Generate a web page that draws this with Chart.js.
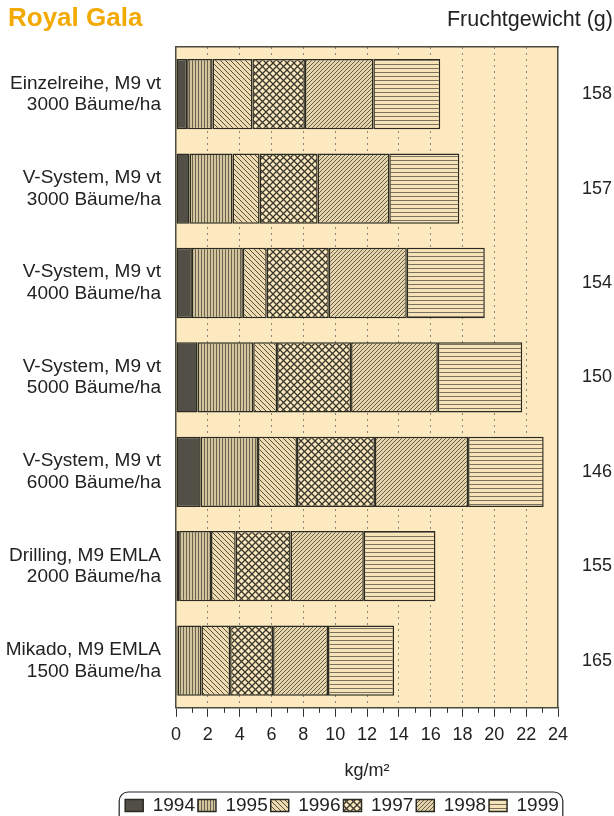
<!DOCTYPE html>
<html>
<head>
<meta charset="UTF-8" />
<title>Royal Gala</title>
<style>
  body { margin: 0; background: #fff; font-family: "Liberation Sans", Arial, sans-serif; }
  #wrap { position: relative; width: 614px; height: 816px; overflow: hidden; }
  #title { position: absolute; left: 8px; top: 2px; font-size: 26px; font-weight: bold; color: #f2a900; }
  #weightTitle { position: absolute; right: 1px; top: 7px; font-size: 21.5px; color: #222; }
</style>
</head>
<body>
<div id="wrap">
  <canvas id="chart"></canvas>
  <div id="title">Royal Gala</div>
  <div id="weightTitle">Fruchtgewicht (g)</div>
</div>

<script src="https://cdn.jsdelivr.net/npm/chart.js"></script>
<script>
const categories = [
  ["Einzelreihe, M9 vt", "3000 Bäume/ha"],
  ["V-System, M9 vt", "3000 Bäume/ha"],
  ["V-System, M9 vt", "4000 Bäume/ha"],
  ["V-System, M9 vt", "5000 Bäume/ha"],
  ["V-System, M9 vt", "6000 Bäume/ha"],
  ["Drilling, M9 EMLA", "2000 Bäume/ha"],
  ["Mikado, M9 EMLA", "1500 Bäume/ha"]
];
const fruitWeights = ["158", "157", "154", "150", "146", "155", "165"];

// yield per year, kg/m²
const y1994 = [0.7, 0.85, 1.0, 1.35, 1.55, 0.2, 0.1];
const y1995 = [1.6, 2.7, 3.2, 3.5, 3.6, 2.0, 1.5];
const y1996 = [2.5, 1.7, 1.5, 1.5, 2.45, 1.55, 1.8];
const y1997 = [3.3, 3.65, 3.9, 4.65, 4.9, 3.45, 2.7];
const y1998 = [4.3, 4.5, 4.9, 5.45, 5.85, 4.6, 3.45];
const y1999 = [4.2, 4.4, 4.9, 5.3, 4.75, 4.5, 4.15];

const xTicks = [0, 2, 4, 6, 8, 10, 12, 14, 16, 18, 20, 22, 24];

const ctx = document.getElementById("chart").getContext("2d");
const FONT = "'Liberation Sans', Arial, sans-serif";

function hatch(bg, fg, size, draw) {
  const c = document.createElement("canvas");
  c.width = size;
  c.height = size;
  const g = c.getContext("2d");
  g.fillStyle = bg;
  g.fillRect(0, 0, size, size);
  g.strokeStyle = fg;
  g.fillStyle = fg;
  draw(g, size);
  return ctx.createPattern(c, "repeat");
}

function diag(g, s, dir) {
  g.beginPath();
  for (const k of [-s, 0, s]) {
    if (dir > 0) { g.moveTo(k + s, 0); g.lineTo(k, s); }
    else { g.moveTo(k, 0); g.lineTo(k + s, s); }
  }
  g.stroke();
}

const patterns = [
  "#524f47",
  hatch("#d2c49c", "#6a624e", 3, (g, s) => g.fillRect(0, 0, 1, s)),
  hatch("#eedcb0", "#554f42", 5, (g, s) => { g.lineWidth = 1; diag(g, s, -1); }),
  hatch("#fbe8bd", "#3a372f", 7, (g, s) => { g.lineWidth = 1.3; diag(g, s, 1); diag(g, s, -1); }),
  hatch("#e6d5aa", "#655e4c", 4, (g, s) => { g.lineWidth = 1; diag(g, s, 1); }),
  hatch("#f6e4b8", "#7a7160", 4, (g, s) => g.fillRect(0, 0, s, 1))
];

const years = ["1994", "1995", "1996", "1997", "1998", "1999"];
const series = [y1994, y1995, y1996, y1997, y1998, y1999];

const frameColor = "#4a4a40";
const legendShift = 35;

const backgroundPlugin = {
  id: "plotBackground",
  afterLayout(chart) {
    // legend sits a bit right of the page centre in the original
    chart.legend.left += legendShift;
    chart.legend.right += legendShift;
  },
  beforeDraw(chart) {
    const c = chart.ctx;
    const a = chart.chartArea;
    c.save();
    c.fillStyle = "#fff";
    c.fillRect(0, 0, chart.width, chart.height);
    c.fillStyle = "#fce9bf";
    c.fillRect(a.left, a.top, a.right - a.left, a.bottom - a.top);
    c.restore();
  },
  afterDraw(chart) {
    const c = chart.ctx;
    const x = chart.scales.x;
    const bottom = chart.chartArea.bottom;
    // minor ticks at odd values
    c.save();
    c.strokeStyle = "#333";
    c.lineWidth = 1;
    c.beginPath();
    for (let v = 1; v < 24; v += 2) {
      const px = Math.round(x.getPixelForValue(v)) + 0.5;
      c.moveTo(px, bottom);
      c.lineTo(px, bottom + 5);
    }
    c.stroke();
    // rounded frame round the legend
    const boxes = chart.legend.legendHitBoxes;
    if (boxes && boxes.length) {
      const l = Math.min(...boxes.map(b => b.left)) - 6;
      const r = Math.max(...boxes.map(b => b.left + b.width)) + 4;
      const t = Math.min(...boxes.map(b => b.top)) - 4;
      c.strokeStyle = "#222";
      c.lineWidth = 1.2;
      c.beginPath();
      c.roundRect(l, t, r - l, 40, 9);
      c.stroke();
    }
    c.restore();
  }
};

const chart = new Chart(ctx, {
  type: "bar",
  data: {
    labels: categories,
    datasets: years.map((yr, i) => ({
      label: yr,
      data: series[i],
      backgroundColor: patterns[i],
      borderColor: "#2a2a22",
      borderWidth: 1.5,
      borderSkipped: false,
      barPercentage: 0.745,
      categoryPercentage: 1
    }))
  },
  options: {
    indexAxis: "y",
    responsive: true,
    maintainAspectRatio: false,
    animation: false,
    layout: { padding: { top: 47, left: 0, right: 0, bottom: -9 } },
    plugins: {
      tooltip: { enabled: false },
      legend: {
        position: "bottom",
        labels: {
          boxWidth: 18,
          boxHeight: 12,
          padding: 3,
          color: "#222",
          font: { family: FONT, size: 19 }
        }
      }
    },
    scales: {
      x: {
        type: "linear",
        position: "bottom",
        stacked: true,
        min: 0,
        max: 24,
        afterBuildTicks: s => { s.ticks = xTicks.map(v => ({ value: v })); },
        ticks: {
          color: "#222",
          padding: 7,
          maxRotation: 0,
          font: { family: FONT, size: 18 }
        },
        grid: {
          color: c => (c.tick && (c.tick.value === 0 || c.tick.value === 24)) ? "transparent" : "#8a8478",
          tickColor: "#333",
          tickLength: 9,
          lineWidth: 1
        },
        border: { color: frameColor, width: 1.5, dash: [2, 4] },
        title: {
          display: true,
          text: "kg/m²",
          color: "#222",
          padding: { top: 8, bottom: 11 },
          font: { family: FONT, size: 18 }
        }
      },
      x2: {
        type: "linear",
        position: "top",
        min: 0,
        max: 24,
        ticks: { display: false },
        grid: { drawOnChartArea: false, drawTicks: false },
        border: { color: frameColor, width: 1.5 }
      },
      y: {
        stacked: true,
        afterFit: s => { s.width = 176; },
        ticks: {
          color: "#222",
          padding: 7,
          font: { family: FONT, size: 19, lineHeight: 1.13 }
        },
        grid: { display: false },
        border: { color: frameColor, width: 1.5 }
      },
      y2: {
        type: "category",
        position: "right",
        labels: fruitWeights,
        offset: true,
        afterFit: s => { s.width = 56; },
        ticks: {
          color: "#222",
          padding: 24,
          font: { family: FONT, size: 18 }
        },
        grid: { display: false, drawTicks: false },
        border: { color: frameColor, width: 1.5 }
      }
    }
  },
  plugins: [backgroundPlugin]
});
</script>
</body>
</html>
